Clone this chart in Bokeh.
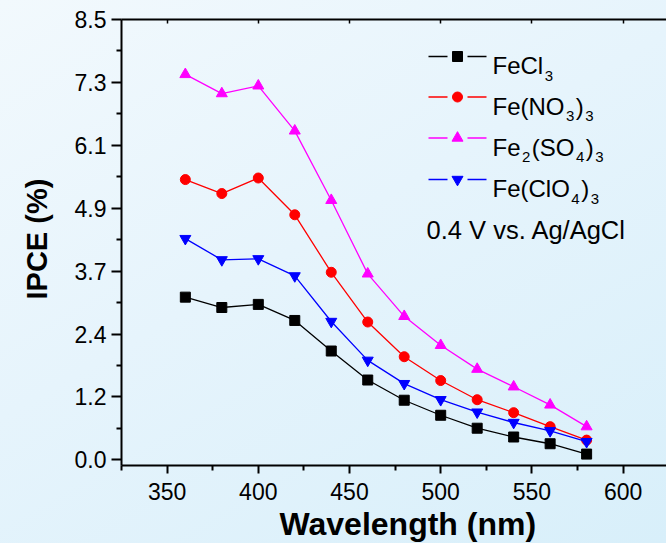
from bokeh.plotting import figure
from bokeh.models import Range1d, LinearAxis, FixedTicker, Label, Title
from bokeh.embed import file_html
from bokeh.resources import INLINE

# ---------------- data ----------------
wavelength = [360, 380, 400, 420, 440, 460, 480, 500, 520, 540, 560, 580]
fecl3 = [3.14, 2.94, 3.00, 2.69, 2.10, 1.54, 1.15, 0.86, 0.61, 0.44, 0.31, 0.11]
feno3 = [5.41, 5.14, 5.44, 4.73, 3.62, 2.66, 1.99, 1.53, 1.16, 0.91, 0.64, 0.38]
fe2so4 = [7.44, 7.07, 7.22, 6.35, 5.01, 3.59, 2.77, 2.21, 1.75, 1.41, 1.06, 0.64]
feclo4 = [4.27, 3.86, 3.88, 3.55, 2.67, 1.92, 1.47, 1.16, 0.92, 0.72, 0.56, 0.35]

y_ticks = [0.0, 8.5 / 7, 2 * 8.5 / 7, 3 * 8.5 / 7, 4 * 8.5 / 7, 5 * 8.5 / 7, 6 * 8.5 / 7, 8.5]
y_tick_labels = ["0.0", "1.2", "2.4", "3.7", "4.9", "6.1", "7.3", "8.5"]
x_ticks = [350, 400, 450, 500, 550, 600]
x_minor = [325, 375, 425, 475, 525, 575, 625]

x_title = "Wavelength (nm)"
y_title = "IPCE (%)"
note = "0.4 V vs. Ag/AgCl"

# ---------------- layout ----------------
W, H = 666, 543
FL, FR, FT, FB = 121, 666, 19, 465
X0 = 325.0
X1 = X0 + (FR - FL) / 1.824
Y0, Y1 = -0.11, 8.5
FONT = "Liberation Sans"


def px2x(px):
    return X0 + (px - FL) / (FR - FL) * (X1 - X0)


def py2y(py):
    return Y1 - (py - FT) / (FB - FT) * (Y1 - Y0)


p = figure(width=W, height=H, x_range=Range1d(X0, X1), y_range=Range1d(Y0, Y1),
           output_backend="svg", toolbar_location=None,
           x_axis_location=None, y_axis_location=None,
           min_border_left=FL, min_border_right=0, min_border_top=FT,
           min_border_bottom=H - FB)
p.outline_line_color = None
p.background_fill_color = None
p.border_fill_color = None
p.styles = {"background": "linear-gradient(150deg, #F2F9FD 0%, #E6F4FC 45%, #D8EFFA 100%)"}
p.xgrid.visible = False
p.ygrid.visible = False

y_minor = [(y_ticks[i] + y_ticks[i + 1]) / 2 for i in range(len(y_ticks) - 1)]

left = LinearAxis(ticker=FixedTicker(ticks=y_ticks, minor_ticks=y_minor),
                  major_label_overrides={t: l for t, l in zip(y_ticks, y_tick_labels)})
left.axis_line_width = 2
left.major_tick_line_width = 2
left.minor_tick_line_width = 2
left.major_tick_out = 10
left.major_tick_in = 0
left.minor_tick_out = 5
left.minor_tick_in = 0
left.major_label_standoff = 5
left.major_label_text_font = FONT
left.major_label_text_font_size = "23px"
left.major_label_text_color = "black"
p.add_layout(left, "left")

bottom = LinearAxis(ticker=FixedTicker(ticks=x_ticks, minor_ticks=x_minor))
bottom.axis_line_width = 2
bottom.major_tick_line_width = 2
bottom.minor_tick_line_width = 2
bottom.major_tick_out = 8
bottom.major_tick_in = 0
bottom.minor_tick_out = 5
bottom.minor_tick_in = 0
bottom.major_label_standoff = 9
bottom.major_label_text_font = FONT
bottom.major_label_text_font_size = "23px"
bottom.major_label_text_color = "black"
p.add_layout(bottom, "below")

top = LinearAxis(ticker=FixedTicker(ticks=x_ticks, minor_ticks=[]),
                 major_label_overrides={t: "" for t in x_ticks})
top.axis_line_width = 2
top.major_tick_line_width = 1.5
top.major_tick_out = 0
top.major_tick_in = 4
top.minor_tick_out = 0
top.minor_tick_in = 0
top.major_label_standoff = 0
p.add_layout(top, "above")

# axis titles as side-panel titles (positioned like the reference)
xt = Title(text=x_title, align="left", offset=158, vertical_align="bottom", standoff=2,
           text_font=FONT, text_font_size="32px", text_font_style="bold", text_color="black")
p.add_layout(xt, "below")
yt = Title(text=y_title, align="left", offset=166, vertical_align="top", standoff=33,
           text_font=FONT, text_font_size="29px", text_font_style="bold", text_color="black")
p.add_layout(yt, "left")

series = [
    (fecl3, "black", "square", 10),
    (feno3, "red", "circle", 10),
    (fe2so4, "#FF00FF", "triangle", 11),
    (feclo4, "blue", "inverted_triangle", 11),
]
for ys, col, mk, sz in series:
    p.line(wavelength, ys, line_color=col, line_width=1.3)
    p.scatter(wavelength, ys, marker=mk, size=sz, fill_color=col, line_color=col)

# ---------------- legend (manual, with subscripts) ----------------
EM = {"F": .611, "e": .556, "C": .722, "l": .222, "(": .333, ")": .333,
      "N": .722, "O": .778, "S": .667, "2": .556, "3": .556, "4": .556}
MAIN, SUB = 24, 15
rows = [
    [("FeCl", 0), ("3", 1)],
    [("Fe(NO", 0), ("3", 1), (")", 0), ("3", 1)],
    [("Fe", 0), ("2", 1), ("(SO", 0), ("4", 1), (")", 0), ("3", 1)],
    [("Fe(ClO", 0), ("4", 1), (")", 0), ("3", 1)],
]
baselines = [65.0, 105.5, 146.5, 188.0]
for (ys, col, mk, sz), segs, b in zip(series, rows, baselines):
    my = b - 9
    p.multi_line([[px2x(428), px2x(447)], [px2x(467), px2x(486)]],
                 [[py2y(my), py2y(my)], [py2y(my), py2y(my)]], line_color=col, line_width=1.3)
    p.scatter([px2x(457)], [py2y(my)], marker=mk, size=sz, fill_color=col, line_color=col)
    cx = 492.0
    for txt, is_sub in segs:
        fs = SUB if is_sub else MAIN
        if is_sub:
            cx += 1.5
        yb = b + 10 if is_sub else b
        p.add_layout(Label(x=px2x(cx), y=py2y(yb), text=txt, text_font=FONT,
                           text_font_size=f"{fs}px", text_color="black",
                           text_align="left", text_baseline="alphabetic"))
        cx += sum(EM[c] for c in txt) * fs
        if is_sub:
            cx += 1.5

p.add_layout(Label(x=px2x(426), y=py2y(229.3), text=note, text_font=FONT,
                   text_font_size="25.5px", text_color="black",
                   text_align="left", text_baseline="alphabetic"))

open("out.html", "w").write(file_html(p, INLINE))
